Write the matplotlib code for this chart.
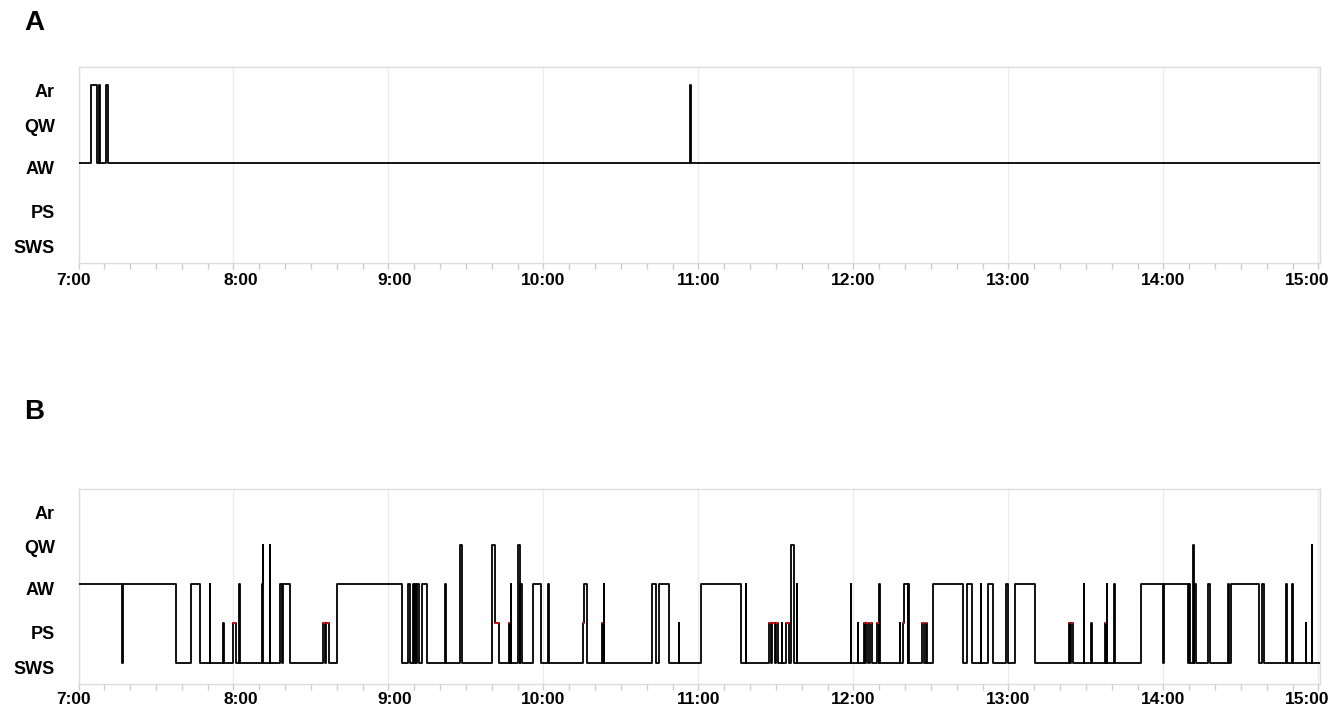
"""
Hipnograma de dois registros (A e B), 7:00 às 15:00.
Estados: SWS, PS, AW, QW, Ar.
"""

import matplotlib
matplotlib.use('Agg')
import matplotlib.pyplot as plt
import matplotlib.transforms as mtransforms
import numpy as np

plt.rcParams['font.family'] = ['Liberation Sans', 'DejaVu Sans']

# ─────────────────────────────────────────────
# DADOS  (tempo em minutos após 7:00, estado que começa nesse instante)
# ─────────────────────────────────────────────
ESTADOS = ['SWS', 'PS', 'AW', 'QW', 'Ar']
HORAS = ['7:00', '8:00', '9:00', '10:00', '11:00', '12:00', '13:00', '14:00', '15:00']
FIM = 480.6   # borda direita do eixo

a_inicio = [0, 4.9, 7.1, 7.9, 8.4, 10.7, 11.6, 236.6, 237.0]
a_estado = ['AW', 'Ar', 'AW', 'Ar', 'AW', 'Ar', 'AW', 'Ar', 'AW']

b_inicio = [
    # 7h
    0, 17.0, 17.1, 37.7, 43.5, 47.0, 50.9, 51.0, 56.1, 56.2,
    # 8h
    60.0, 60.8, 62.0, 62.5, 71.0, 71.4, 71.5, 74.1, 74.2,
    78.0, 78.6, 79.3, 81.8, 94.6, 95.4, 96.0, 96.9,
    100.2, 125.1, 127.4, 128.5, 129.3, 129.7, 130.1, 130.5, 130.9, 131.8,
    132.8, 135.0, 141.8, 142.3, 147.7, 148.3,
    # 9h
    159.9, 161.2, 162.8, 166.5, 166.9, 167.4, 167.5,
    170.3, 170.8, 171.1, 171.7, 175.9, 179.0, 181.8, 182.3,
    195.2, 195.7, 197.0, 202.7, 203.1, 203.4, 203.5,
    # 10h
    222.0, 223.7, 224.7, 228.4, 232.3, 232.4, 240.9, 256.5, 258.4, 258.5,
    267.4, 268.1, 268.6, 269.6, 269.9, 270.6, 272.2, 272.3,
    273.8, 275.1, 275.7, 277.0, 278.1, 278.2,
    # 11h
    299.0, 299.1, 301.8, 301.9,
    303.9, 304.4, 304.8, 305.8, 306.3, 307.3, 309.2, 309.7, 310.0, 310.1,
    318.0, 318.1, 319.0, 319.6, 321.0, 321.2, 321.6,
    326.7, 327.2, 328.0, 328.5,
    # 12h
    330.8, 342.5, 344.0, 346.0, 349.3, 349.4, 352.2, 354.1,
    359.1, 359.9, 362.6, 370.4,
    # 13h
    383.3, 383.9, 384.2, 384.8, 389.3, 389.4, 392.1, 392.2,
    397.2, 397.7, 398.0, 398.1, 400.8, 401.1,
    411.4, 420.0, 420.1, 429.4, 429.8, 430.1, 431.6, 431.7, 431.9, 432.5,
    # 14h
    437.4, 437.9, 444.8, 445.4, 446.3, 457.1, 458.1, 459.0,
    467.4, 467.9, 469.7, 470.3, 475.0, 475.1, 477.4, 477.5,
]
b_estado = [
    # 7h
    'AW', 'SWS', 'AW', 'SWS', 'AW', 'SWS', 'AW', 'SWS', 'PS', 'SWS',
    # 8h
    'PS', 'SWS', 'AW', 'SWS', 'AW', 'QW', 'SWS', 'QW', 'SWS',
    'AW', 'SWS', 'AW', 'SWS', 'PS', 'SWS', 'PS', 'SWS',
    'AW', 'SWS', 'AW', 'SWS', 'AW', 'SWS', 'AW', 'SWS', 'AW', 'SWS',
    'AW', 'SWS', 'AW', 'SWS', 'QW', 'SWS',
    # 9h
    'QW', 'PS', 'SWS', 'PS', 'SWS', 'AW', 'SWS',
    'QW', 'SWS', 'AW', 'SWS', 'AW', 'SWS', 'AW', 'SWS',
    'PS', 'AW', 'SWS', 'PS', 'SWS', 'AW', 'SWS',
    # 10h
    'AW', 'SWS', 'AW', 'SWS', 'PS', 'SWS', 'AW', 'SWS', 'AW', 'SWS',
    'PS', 'SWS', 'PS', 'SWS', 'PS', 'SWS', 'PS', 'SWS',
    'PS', 'SWS', 'QW', 'SWS', 'AW', 'SWS',
    # 11h
    'AW', 'SWS', 'PS', 'SWS',
    'PS', 'SWS', 'PS', 'SWS', 'PS', 'SWS', 'PS', 'SWS', 'AW', 'SWS',
    'PS', 'SWS', 'PS', 'AW', 'SWS', 'AW', 'SWS',
    'PS', 'SWS', 'PS', 'SWS',
    # 12h
    'AW', 'SWS', 'AW', 'SWS', 'AW', 'SWS', 'AW', 'SWS',
    'AW', 'SWS', 'AW', 'SWS',
    # 13h
    'PS', 'SWS', 'PS', 'SWS', 'AW', 'SWS', 'PS', 'SWS',
    'PS', 'SWS', 'AW', 'SWS', 'AW', 'SWS',
    'AW', 'SWS', 'AW', 'SWS', 'AW', 'SWS', 'QW', 'SWS', 'AW', 'SWS',
    # 14h
    'AW', 'SWS', 'AW', 'SWS', 'AW', 'SWS', 'AW', 'SWS',
    'AW', 'SWS', 'AW', 'SWS', 'PS', 'SWS', 'QW', 'SWS',
]

# ─────────────────────────────────────────────
# LAYOUT
# ─────────────────────────────────────────────
W, H = 1342, 705
NIVEL = {s: i for i, s in enumerate(ESTADOS)}
POS_ROTULO_Y = [-0.14, 0.76, 1.89, 2.96, 3.85]      # onde os rótulos ficam no eixo y
DESLOC_X = [-5, 7, 6, 0, 0, 0, 0, 0, -11]           # px, ajuste dos rótulos de hora


def desenha(ax, inicio, estado):
    t = np.append(inicio, FIM)
    y = [NIVEL[s] for s in estado]
    y.append(y[-1])
    ax.step(t, y, where='post', color='black', lw=1.3, zorder=3)
    # episódios de PS com duração ganham o topo vermelho
    for i, s in enumerate(estado):
        if s == 'PS' and t[i + 1] - t[i] > 0.3:
            ax.hlines(NIVEL['PS'], t[i], t[i + 1], color='red', lw=1.4, zorder=4)


def estiliza(ax, pad_x):
    ax.set_xlim(0, FIM)
    ax.set_ylim(-0.55, 4.45)
    ax.set_xticks(np.arange(0, 481, 60))
    ax.set_xticks(np.arange(0, 481, 10), minor=True)
    ax.set_xticklabels(HORAS, fontweight='bold')
    ax.tick_params(axis='x', which='both', length=4.3, width=1, color='#cccccc',
                   labelsize=12.5, pad=pad_x, labelcolor='black')
    ax.set_yticks(POS_ROTULO_Y)
    ax.set_yticklabels(ESTADOS, fontweight='bold')
    ax.tick_params(axis='y', length=0, labelsize=13, pad=17)
    ax.grid(axis='x', which='major', color='#ececec', lw=1)
    ax.set_axisbelow(True)
    for sp in ax.spines.values():
        sp.set_color('#dcdcdc')
        sp.set_linewidth(1)
    for lab, dx in zip(ax.get_xticklabels(), DESLOC_X):
        off = mtransforms.ScaledTranslation(dx / 100, 0, ax.figure.dpi_scale_trans)
        lab.set_transform(lab.get_transform() + off)


fig = plt.figure(figsize=(W / 100, H / 100), dpi=100)
fig.patch.set_facecolor('white')

esq, larg, alt = 78.5 / W, 1241.5 / W, 195.4 / H
ax_a = fig.add_axes([esq, (H - 262.7) / H, larg, alt])
ax_b = fig.add_axes([esq, (H - 684.0) / H, larg, alt])

desenha(ax_a, a_inicio, a_estado)
desenha(ax_b, b_inicio, b_estado)
estiliza(ax_a, 3)
estiliza(ax_b, 1.2)

fig.text(24 / W, 1 - 23 / H, 'A', fontsize=20, fontweight='bold', va='center', ha='left')
fig.text(24 / W, 1 - 412 / H, 'B', fontsize=20, fontweight='bold', va='center', ha='left')

plt.savefig('out.png', dpi=100, facecolor='white')
